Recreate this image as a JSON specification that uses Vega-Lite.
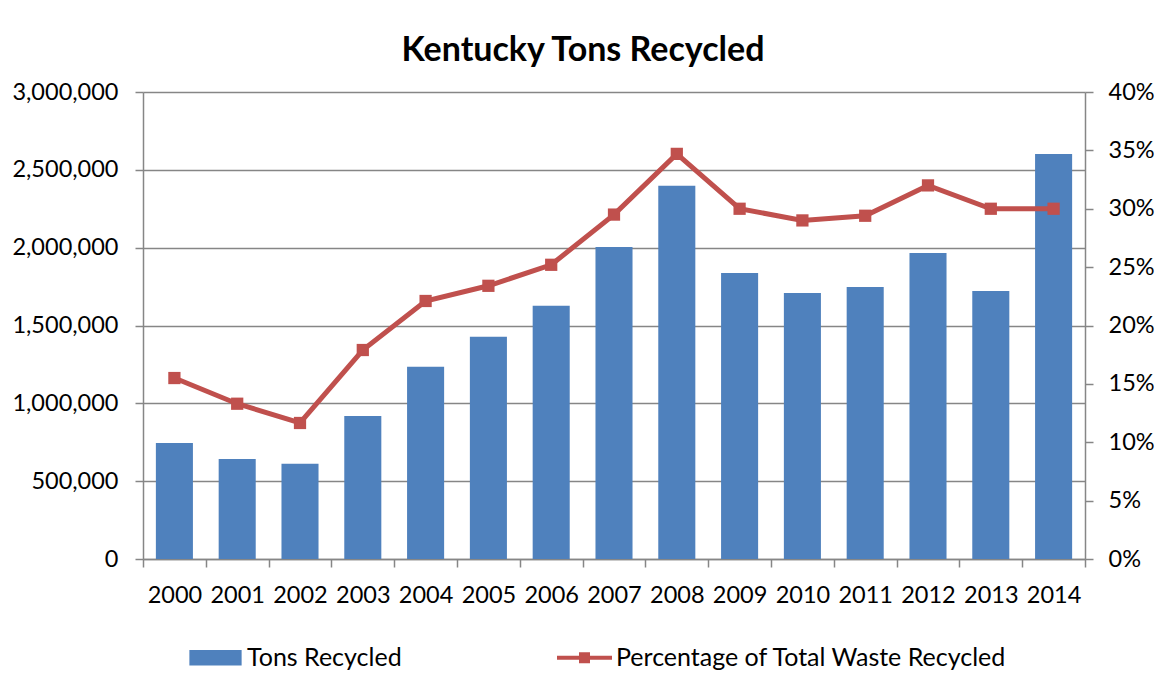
{
  "$schema": "https://vega.github.io/schema/vega-lite/v6.json",
  "width": 942,
  "height": 467,
  "autosize": {"type": "none"},
  "padding": {"left": 143, "top": 92, "right": 74, "bottom": 118},
  "background": "white",
  "config": {
    "font": "Lato",
    "view": {"stroke": null},
    "axis": {"labelFont": "Lato", "labelFontSize": 23.5, "labelColor": "black", "domainColor": "#868686", "tickColor": "#868686", "gridColor": "#868686", "domainWidth": 1.5, "tickWidth": 1.5, "gridWidth": 1.5}
  },
  "title": {"text": "Kentucky Tons Recycled", "fontSize": 34, "fontWeight": "bold", "font": "Lato", "color": "black", "offset": 12, "dx": -31},
  "data": {
    "values": [
      {"year": "2000", "tons": 745000, "pct": 0.155},
      {"year": "2001", "tons": 642000, "pct": 0.133},
      {"year": "2002", "tons": 612000, "pct": 0.1165},
      {"year": "2003", "tons": 919000, "pct": 0.179},
      {"year": "2004", "tons": 1235000, "pct": 0.221},
      {"year": "2005", "tons": 1428000, "pct": 0.234},
      {"year": "2006", "tons": 1627000, "pct": 0.252},
      {"year": "2007", "tons": 2004000, "pct": 0.295},
      {"year": "2008", "tons": 2398000, "pct": 0.347},
      {"year": "2009", "tons": 1838000, "pct": 0.300},
      {"year": "2010", "tons": 1709000, "pct": 0.290},
      {"year": "2011", "tons": 1747000, "pct": 0.294},
      {"year": "2012", "tons": 1966000, "pct": 0.320},
      {"year": "2013", "tons": 1722000, "pct": 0.300},
      {"year": "2014", "tons": 2602000, "pct": 0.300}
    ]
  },
  "encoding": {
    "x": {
      "field": "year",
      "type": "ordinal",
      "scale": {"paddingInner": 0, "paddingOuter": 0},
      "axis": {"title": null, "labelAngle": 0, "tickBand": "extent", "tickSize": 8, "labelPadding": 16, "grid": false}
    }
  },
  "layer": [
    {
      "mark": {"type": "bar", "width": {"band": 0.59}},
      "encoding": {
        "y": {
          "field": "tons",
          "type": "quantitative",
          "scale": {"domain": [0, 3000000], "nice": false},
          "axis": {"title": null, "values": [0, 500000, 1000000, 1500000, 2000000, 2500000, 3000000], "format": ",d", "grid": true, "tickSize": 8, "labelPadding": 17}
        },
        "color": {
          "datum": "Tons Recycled",
          "scale": {"domain": ["Tons Recycled", "Percentage of Total Waste Recycled"], "range": ["#4F81BD", "#C0504D"]},
          "legend": {
            "title": null,
            "orient": "bottom",
            "direction": "horizontal",
            "labelFont": "Lato",
            "labelFontSize": 25,
            "labelColor": "black",
            "labelLimit": 0,
            "symbolSize": 3025,
            "labelOffset": 4,
            "columnPadding": 155,
            "padding": 45,
            "offset": -22,
            "encode": {
              "symbols": {
                "update": {
                  "shape": {"signal": "datum.value === 'Tons Recycled' ? 'M-0.95,-0.28H0.95V0.28H-0.95Z' : 'M-1,-0.07H-0.2V-0.2H0.2V-0.07H1V0.07H0.2V0.2H-0.2V0.07H-1Z'"},
                  "fill": {"signal": "datum.value === 'Tons Recycled' ? '#4F81BD' : '#C0504D'"},
                  "strokeWidth": {"value": 0},
                  "opacity": {"value": 1}
                }
              }
            }
          }
        }
      }
    },
    {
      "mark": {"type": "line", "strokeWidth": 5, "point": {"shape": "square", "size": 150, "filled": true, "opacity": 1}},
      "encoding": {
        "y": {
          "field": "pct",
          "type": "quantitative",
          "scale": {"domain": [0, 0.4], "nice": false},
          "axis": {"title": null, "orient": "right", "values": [0, 0.05, 0.1, 0.15, 0.2, 0.25, 0.3, 0.35, 0.4], "format": ".0%", "grid": false, "tickSize": 8, "labelPadding": 15}
        },
        "color": {"datum": "Percentage of Total Waste Recycled"}
      }
    }
  ],
  "resolve": {"scale": {"y": "independent"}}
}
